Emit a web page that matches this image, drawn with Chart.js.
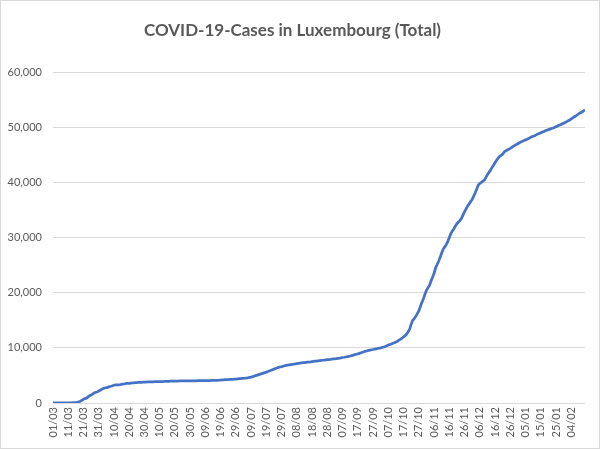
<!DOCTYPE html>
<html>
<head>
<meta charset="utf-8">
<script src="https://cdn.jsdelivr.net/npm/chart.js@4/dist/chart.umd.min.js"></script>
<style>
  html, body { margin: 0; padding: 0; background: #fff; }
  #wrap { width: 600px; height: 449px; position: relative; }
</style>
</head>
<body>
<div id="wrap"><canvas id="covid-chart"></canvas></div>
<script>
// tick labels under the x axis, one every 10 days starting 01/03
var tickLabels = ['01/03', '11/03', '21/03', '31/03', '10/04', '20/04', '30/04', '10/05', '20/05',
    '30/05', '09/06', '19/06', '29/06', '09/07', '19/07', '29/07', '08/08', '18/08', '28/08',
    '07/09', '17/09', '27/09', '07/10', '17/10', '27/10', '06/11', '16/11', '26/11', '06/12',
    '16/12', '26/12', '05/01', '15/01', '25/01', '04/02'];

// total cases, one value per day from 01/03 to 13/02
var totalCases = [
    1, 1, 1, 1, 2, 3, 4, 5, 5, 7,
    7, 26, 34, 51, 59, 81, 140, 203, 335, 484,
    670, 798, 875, 1099, 1333, 1453, 1605, 1831, 1950, 1988,
    2178, 2319, 2487, 2612, 2729, 2804, 2843, 2970, 3034, 3115,
    3223, 3270, 3281, 3292, 3307, 3373, 3444, 3480, 3537, 3550,
    3558, 3618, 3654, 3665, 3695, 3711, 3723, 3729, 3741, 3769,
    3784, 3802, 3812, 3824, 3828, 3840, 3851, 3859, 3871, 3877,
    3886, 3888, 3894, 3904, 3915, 3923, 3930, 3945, 3947, 3958,
    3971, 3980, 3981, 3990, 3993, 3995, 4001, 4008, 4012, 4016,
    4018, 4019, 4020, 4022, 4032, 4035, 4040, 4042, 4047, 4050,
    4052, 4055, 4062, 4072, 4085, 4093, 4098, 4104, 4120, 4133,
    4153, 4173, 4199, 4216, 4230, 4245, 4265, 4285, 4299, 4320,
    4345, 4370, 4400, 4420, 4445, 4465, 4490, 4520, 4580, 4640,
    4700, 4790, 4880, 4970, 5060, 5150, 5240, 5330, 5420, 5510,
    5600, 5700, 5810, 5920, 6030, 6140, 6250, 6350, 6450, 6530,
    6600, 6680, 6750, 6810, 6870, 6920, 6970, 7020, 7060, 7100,
    7150, 7190, 7230, 7270, 7300, 7330, 7370, 7400, 7430, 7460,
    7500, 7540, 7580, 7610, 7650, 7690, 7720, 7750, 7790, 7820,
    7850, 7880, 7910, 7950, 7980, 8010, 8050, 8090, 8130, 8180,
    8250, 8290, 8340, 8390, 8450, 8520, 8600, 8680, 8760, 8830,
    8900, 9000, 9100, 9200, 9300, 9400, 9460, 9530, 9590, 9650,
    9700, 9760, 9820, 9880, 9940, 10000, 10070, 10140, 10250, 10360,
    10500, 10600, 10700, 10830, 10930, 11050, 11200, 11380, 11560, 11750,
    12000, 12200, 12500, 12900, 13400, 14300, 15000, 15300, 15700, 16200,
    16700, 17500, 18200, 18900, 19700, 20400, 20900, 21300, 22100, 22800,
    23500, 24500, 25100, 25700, 26400, 27200, 27900, 28300, 28700, 29300,
    30000, 30700, 31200, 31600, 32100, 32500, 32800, 33100, 33500, 34100,
    34700, 35200, 35700, 36100, 36500, 36900, 37500, 38100, 38800, 39500,
    39800, 40000, 40200, 40400, 40900, 41400, 41800, 42200, 42700, 43100,
    43600, 44000, 44400, 44700, 44900, 45100, 45500, 45700, 45850, 46000,
    46150, 46350, 46550, 46700, 46850, 47000, 47200, 47300, 47450, 47600,
    47700, 47800, 47950, 48100, 48250, 48350, 48450, 48600, 48750, 48850,
    49000, 49100, 49200, 49350, 49450, 49550, 49650, 49750, 49850, 49950,
    50100, 50200, 50350, 50450, 50600, 50700, 50850, 51000, 51150, 51300,
    51500, 51700, 51900, 52050, 52250, 52450, 52600, 52750, 52950, 53150
];

var yTicks = [0, 10000, 20000, 30000, 40000, 50000, 60000];

var blue = '#4472c4',
    grid = '#d9d9d9',
    textGray = '#595959',
    fontName = 'Lato, "Open Sans", sans-serif';

// thin grey frame round the whole chart, like the office chart border
var frame = {
    id: 'frame',
    afterDraw: function (chart) {
        var ctx = chart.ctx;
        ctx.save();
        ctx.strokeStyle = grid;
        ctx.lineWidth = 1;
        ctx.strokeRect(0.5, 0.5, chart.width - 1, chart.height - 1);
        ctx.restore();
    }
};

var ctx = document.getElementById('covid-chart').getContext('2d');
new Chart(ctx, {
    type: 'line',
    data: {
        datasets: [{
            label: 'Total',
            data: totalCases.map(function (v, i) { return { x: i, y: v }; }),
            borderColor: blue,
            backgroundColor: blue,
            borderWidth: 2.75,
            pointRadius: 0,
            tension: 0,
            fill: false
        }]
    },
    options: {
        responsive: true,
        maintainAspectRatio: false,
        animation: false,
        layout: { padding: { left: 0, right: 15, top: 0, bottom: 0 } },
        plugins: {
            legend: { display: false },
            tooltip: { enabled: false },
            title: {
                display: true,
                text: 'COVID-19-Cases in Luxembourg (Total)',
                color: textGray,
                font: { family: fontName, size: 17, weight: 'bold' },
                padding: { top: 20, bottom: 31.6 }
            }
        },
        scales: {
            x: {
                type: 'linear',
                min: 0,
                max: totalCases.length - 1,
                grid: { display: false, drawTicks: false },
                border: { display: false },
                afterFit: function (scale) { scale.height = 46; },
                ticks: {
                    stepSize: 10,
                    includeBounds: false,
                    autoSkip: false,
                    minRotation: 90,
                    maxRotation: 90,
                    padding: 4,
                    color: textGray,
                    font: { family: fontName, size: 11 },
                    callback: function (value) {
                        var k = value / 10;
                        return Number.isInteger(k) && tickLabels[k] ? tickLabels[k] : '';
                    }
                }
            },
            y: {
                min: 0,
                max: 60000,
                afterFit: function (scale) { scale.width = 53; },
                afterBuildTicks: function (scale) {
                    scale.ticks = yTicks.map(function (v) { return { value: v }; });
                },
                grid: { color: grid, lineWidth: 1, drawTicks: false },
                border: { display: false },
                ticks: {
                    padding: 11,
                    color: textGray,
                    font: { family: fontName, size: 11 },
                    callback: function (value) { return value.toLocaleString('en-US'); }
                }
            }
        }
    },
    plugins: [frame]
});
</script>
</body>
</html>
